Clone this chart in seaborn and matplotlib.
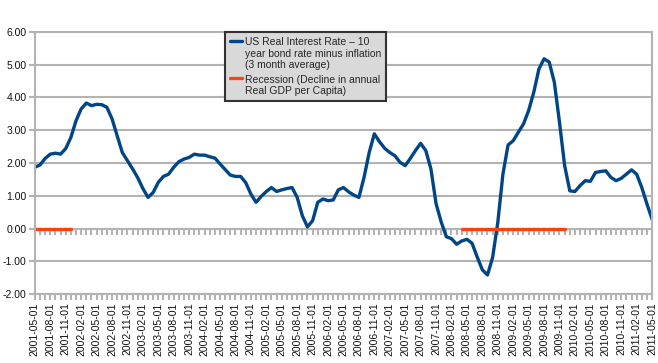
import numpy as np
import pandas as pd
import matplotlib
matplotlib.use("Agg")
import matplotlib.pyplot as plt
from matplotlib.ticker import FormatStrFormatter
import seaborn as sns

# monthly series, 2001-05 .. 2011-05
months = pd.date_range("2001-05-01", "2011-05-01", freq="MS")

real_rate = [
    1.87, 1.94, 2.14, 2.27, 2.30, 2.27, 2.44, 2.78, 3.29, 3.65,
    3.83, 3.75, 3.79, 3.78, 3.70, 3.35, 2.83, 2.32, 2.07, 1.82,
    1.55, 1.22, 0.95, 1.10, 1.41, 1.59, 1.66, 1.87, 2.04, 2.12,
    2.17, 2.27, 2.24, 2.24, 2.19, 2.15, 1.97, 1.80, 1.63, 1.59,
    1.59, 1.40, 1.05, 0.80, 0.98, 1.13, 1.25, 1.13, 1.18, 1.22,
    1.25, 0.95, 0.39, 0.05, 0.24, 0.80, 0.90, 0.85, 0.87, 1.18,
    1.25, 1.12, 1.02, 0.95, 1.56, 2.32, 2.89, 2.65, 2.45, 2.32,
    2.22, 2.02, 1.92, 2.14, 2.38, 2.60, 2.38, 1.82, 0.76, 0.20,
    -0.25, -0.31, -0.48, -0.38, -0.33, -0.45, -0.87, -1.26, -1.42, -0.88,
    0.18, 1.66, 2.55, 2.68, 2.94, 3.19, 3.60, 4.16, 4.87, 5.18,
    5.08, 4.46, 3.24, 1.92, 1.15, 1.13, 1.31, 1.46, 1.44, 1.71,
    1.74, 1.76, 1.56, 1.46, 1.53, 1.66, 1.79, 1.66, 1.25, 0.75,
    0.28,
]

recession_periods = [("2001-05-01", "2001-12-01"), ("2008-04-01", "2009-12-01")]

rate_label = "US Real Interest Rate \u2013 10\nyear bond rate minus inflation\n(3 month average)"
recession_label = "Recession (Decline in annual\nReal GDP per Capita)"

sns.set_theme(style="white")
plt.rcParams['font.family'] = ['Liberation Sans', 'DejaVu Sans']

df = pd.DataFrame({"month": np.arange(len(months)), "rate": real_rate})

fig, ax = plt.subplots(figsize=(6.58, 3.63), dpi=100)
fig.subplots_adjust(left=0.053, right=0.991, bottom=0.19, top=0.912)

grid_col = "#b3b3b3"
ax.grid(axis="y", color=grid_col, lw=1.5)
ax.set_axisbelow(True)

sns.lineplot(data=df, x="month", y="rate", color="#004586", lw=2.4, ax=ax,
             label=rate_label)

for i, (start, end) in enumerate(recession_periods):
    idx = np.where((months >= start) & (months <= end))[0]
    sns.lineplot(x=idx, y=np.zeros(len(idx)), color="#ff420e", lw=2.4, ax=ax,
                 label=recession_label if i == 0 else None)

ax.set_xlim(0, len(months) - 1)
ax.set_ylim(-2, 6)
ax.set_yticks(np.arange(-2, 7, 1))
ax.yaxis.set_major_formatter(FormatStrFormatter("%.2f"))

major = np.arange(0, len(months), 3)
ax.set_xticks(major)
ax.set_xticklabels(months[major].strftime("%Y-%m-%d"), rotation=90)
ax.set_xticks(np.arange(len(months)), minor=True)
ax.tick_params(axis="x", which="both", bottom=True, direction="out", length=4,
               width=1.5, color=grid_col, labelsize=7.5, pad=2, labelcolor="#111111")
ax.tick_params(axis="y", left=True, direction="out", length=4, width=1.5,
               color=grid_col, labelsize=7.5, pad=2, labelcolor="#111111")
ax.set_xlabel("")
ax.set_ylabel("")

# tick marks along the zero line
zero = ax.secondary_xaxis(0.25)
zero.set_alignment("bottom")
zero.set_xticks(np.arange(len(months)))
zero.tick_params(axis="x", direction="out", length=4, width=1.5, color=grid_col,
                 labelbottom=False, labeltop=False)
for s in zero.spines.values():
    s.set_visible(False)

for s in ax.spines.values():
    s.set_color(grid_col)
    s.set_linewidth(1.5)

leg = ax.legend(loc="upper left", bbox_to_anchor=(0.308, 1.0), borderaxespad=0,
                fontsize=7.5, frameon=True, fancybox=False, framealpha=1,
                handlelength=1.1, handletextpad=0.3, labelspacing=0.4,
                borderpad=0.5)
leg.get_frame().set_facecolor("#d9d9d9")
leg.get_frame().set_edgecolor("#333333")
leg.get_frame().set_linewidth(1.5)
# put each legend line next to the first line of its text
for column in leg._legend_handle_box.get_children():
    for entry in column.get_children():
        entry.align = "top"

fig.savefig("out.png", dpi=100)
